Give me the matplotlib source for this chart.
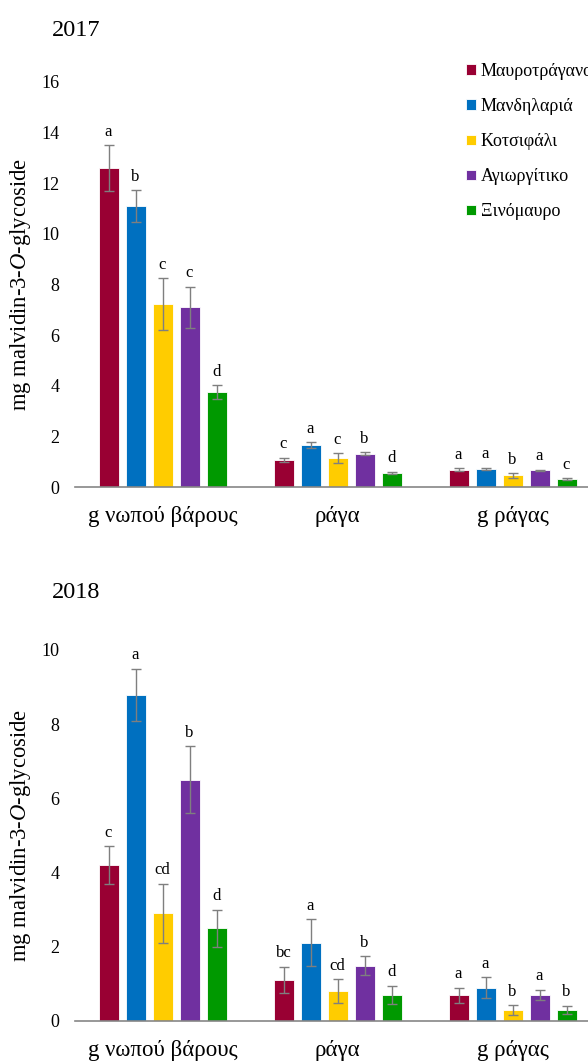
import numpy as np
import matplotlib
matplotlib.use("Agg")
import matplotlib.pyplot as plt

plt.rcParams['font.family'] = ['Liberation Serif', 'DejaVu Serif']
plt.rcParams['mathtext.fontset'] = 'custom'
plt.rcParams['mathtext.rm'] = 'Liberation Serif'
plt.rcParams['mathtext.it'] = 'Liberation Serif:italic'

categories = ["g νωπού βάρους", "ράγα", "g ράγας"]
varieties = ["Μαυροτράγανο", "Μανδηλαριά", "Κοτσιφάλι", "Αγιωργίτικο", "Ξινόμαυρο"]
colors = ["#990033", "#0070C0", "#FFCC00", "#7030A0", "#009900"]

# values[variety][category]
vals_2017 = [[12.60, 1.07, 0.68],
             [11.09, 1.66, 0.72],
             [7.22, 1.13, 0.46],
             [7.10, 1.32, 0.66],
             [3.75, 0.57, 0.32]]
err_2017 = [[0.90, 0.09, 0.06],
            [0.63, 0.11, 0.05],
            [1.03, 0.20, 0.09],
            [0.80, 0.05, 0.03],
            [0.27, 0.04, 0.03]]
let_2017 = [["a", "c", "a"],
            ["b", "a", "a"],
            ["c", "c", "b"],
            ["c", "b", "a"],
            ["d", "d", "c"]]

vals_2018 = [[4.20, 1.10, 0.69],
             [8.79, 2.10, 0.89],
             [2.90, 0.80, 0.29],
             [6.50, 1.48, 0.69],
             [2.49, 0.69, 0.29]]
err_2018 = [[0.50, 0.36, 0.20],
            [0.70, 0.63, 0.28],
            [0.80, 0.32, 0.13],
            [0.90, 0.26, 0.14],
            [0.50, 0.25, 0.12]]
let_2018 = [["c", "bc", "a"],
            ["a", "a", "a"],
            ["cd", "cd", "b"],
            ["b", "b", "a"],
            ["d", "d", "b"]]

W, H = 588, 1061
fig = plt.figure(figsize=(W / 100, H / 100), dpi=100)

step = 27 / 175
bw = 20 / 175
x = np.arange(len(categories))


def panel(rect, vals, errs, lets, ymax):
    ax = fig.add_axes(rect)
    handles = []
    for i in range(len(varieties)):
        pos = x + (i - 2) * step
        b = ax.bar(pos, vals[i], width=bw, color=colors[i],
                   edgecolor="white", linewidth=0.6, zorder=2)
        handles.append(b)
        ax.errorbar(pos, vals[i], yerr=errs[i], fmt='none', ecolor='#7f7f7f',
                    elinewidth=1, capsize=3.5, capthick=1, zorder=3)
        for p, v, e, t in zip(pos, vals[i], errs[i], lets[i]):
            ax.annotate(t, (p, v + e), xytext=(0, 4), textcoords='offset points',
                        ha='center', va='bottom', fontsize=12)
    ax.set_xlim(-0.5, 2.5)
    ax.set_ylim(0, ymax)
    ax.set_yticks(np.arange(0, ymax + 0.1, 2))
    ax.set_xticks(x)
    ax.set_xticklabels(categories)
    ax.tick_params(axis='both', length=0)
    ax.tick_params(axis='x', labelsize=16.5, pad=14)
    ax.tick_params(axis='y', labelsize=13, pad=11)
    for s in ['top', 'right', 'left']:
        ax.spines[s].set_visible(False)
    ax.spines['bottom'].set_color('#868686')
    ax.spines['bottom'].set_linewidth(1.2)
    ax.set_ylabel(r'mg malvidin-3-$\mathit{O}$-glycoside', fontsize=16.3)
    ax.yaxis.set_label_coords(-0.08, 0.5)
    return ax, handles


ax1, h1 = panel([75 / W, 1 - 487 / H, 525 / W, 405 / H],
                vals_2017, err_2017, let_2017, 16)
ax2, h2 = panel([75 / W, 1 - 1020.7 / H, 525 / W, 370.7 / H],
                vals_2018, err_2018, let_2018, 10)

fig.text(52 / W, 1 - 30 / H, "2017", fontsize=17.5, va='center', ha='left')
fig.text(52 / W, 1 - 592 / H, "2018", fontsize=17.5, va='center', ha='left')

fig.legend(h1, varieties, loc='upper left', bbox_to_anchor=(459 / W, 1 - 56 / H),
           frameon=False, fontsize=13, handlelength=0.55, handleheight=0.55,
           handletextpad=0.25, labelspacing=1.0, borderaxespad=0)

fig.savefig("out.png", dpi=100)
